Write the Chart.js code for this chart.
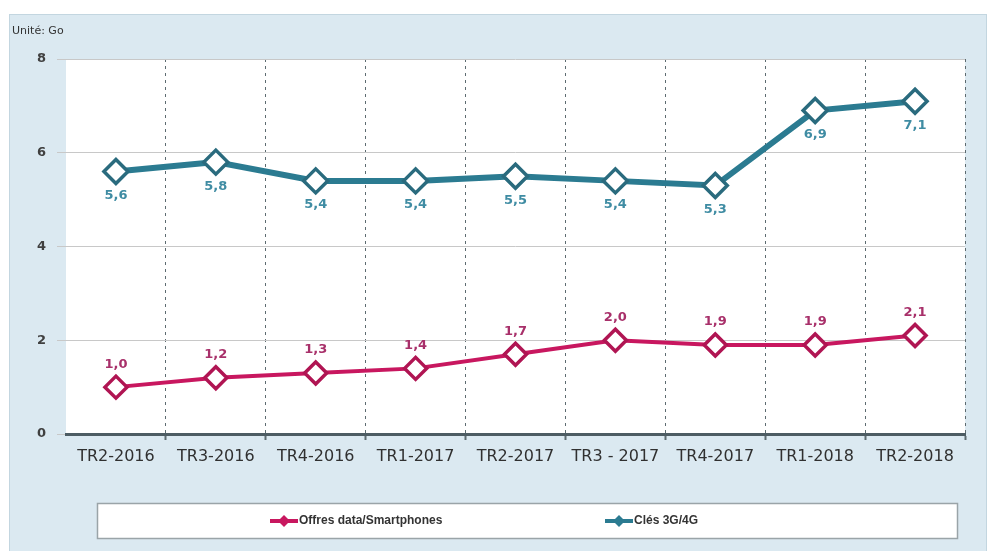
<!DOCTYPE html>
<html>
<head>
<meta charset="utf-8">
<script src="https://cdn.jsdelivr.net/npm/chart.js@4/dist/chart.umd.min.js"></script>
<style>
html,body{margin:0;padding:0;background:#fff;}
canvas{display:block;}
</style>
</head>
<body>
<canvas id="c" width="987" height="551"></canvas>
<script>
const categories = ['TR2-2016','TR3-2016','TR4-2016','TR1-2017','TR2-2017','TR3 - 2017','TR4-2017','TR1-2018','TR2-2018'];
const smartphones = [1.0,1.2,1.3,1.4,1.7,2.0,1.9,1.9,2.1];
const cles = [5.6,5.8,5.4,5.4,5.5,5.4,5.3,6.9,7.1];
const yTicks = [0,2,4,6,8];
const seriesNames = ['Offres data/Smartphones','Clés 3G/4G'];
const unitLabel = 'Unité: Go';

const PINK = '#c8175f', PINK_DARK = '#b01553', PINK_LABEL = '#a8306a';
const BLUE = '#2b7b91', BLUE_DARK = '#2a6b7e', BLUE_LABEL = '#3f8ca3';
const FRAME = '#dbe9f1';

const framePlugin = {
  id: 'frame',
  beforeDraw(chart) {
    const ctx = chart.ctx, a = chart.chartArea;
    ctx.save();
    ctx.fillStyle = '#fff';
    ctx.fillRect(0,0,chart.width,chart.height);
    ctx.fillStyle = FRAME;
    ctx.fillRect(9,14,chart.width-9,chart.height-14);
    ctx.strokeStyle = '#c3d6e0';
    ctx.lineWidth = 1;
    ctx.strokeRect(9.5,14.5,chart.width-10,chart.height-14);
    ctx.fillStyle = '#fff';
    ctx.fillRect(a.left,a.top,a.right-a.left,a.bottom-a.top);
    ctx.fillStyle = '#333';
    ctx.font = '11px "DejaVu Sans"';
    ctx.textBaseline = 'middle';
    ctx.textAlign = 'left';
    ctx.fillText(unitLabel, 12, 31);
    ctx.restore();
  }
};

const labelPlugin = {
  id: 'valueLabels',
  afterDatasetsDraw(chart) {
    const ctx = chart.ctx;
    ctx.save();
    ctx.font = 'bold 13px "DejaVu Sans"';
    ctx.textAlign = 'center';
    ctx.textBaseline = 'middle';
    chart.data.datasets.forEach((ds, i) => {
      const meta = chart.getDatasetMeta(i);
      meta.data.forEach((pt, j) => {
        const txt = ds.data[j].toFixed(1).replace('.', ',');
        ctx.fillStyle = ds.labelColor;
        ctx.fillText(txt, pt.x, pt.y + ds.labelOffset);
      });
    });
    ctx.restore();
  }
};

const legendPlugin = {
  id: 'boxLegend',
  afterDraw(chart) {
    const ctx = chart.ctx;
    ctx.save();
    ctx.fillStyle = '#fff';
    ctx.fillRect(97,503,861,36);
    ctx.strokeStyle = '#9aa4a8';
    ctx.lineWidth = 1.5;
    ctx.strokeRect(97.5,503.5,860,35);
    const items = [
      {x:270, ds:chart.data.datasets[0]},
      {x:605, ds:chart.data.datasets[1]}
    ];
    const y = 521;
    items.forEach(it => {
      ctx.strokeStyle = it.ds.borderColor;
      ctx.lineWidth = 4;
      ctx.beginPath(); ctx.moveTo(it.x, y); ctx.lineTo(it.x+28, y); ctx.stroke();
      ctx.fillStyle = it.ds.borderColor;
      ctx.beginPath();
      const cx = it.x+14;
      ctx.moveTo(cx, y-6); ctx.lineTo(cx+6, y); ctx.lineTo(cx, y+6); ctx.lineTo(cx-6, y); ctx.closePath();
      ctx.fill();
      ctx.fillStyle = '#333';
      ctx.font = 'bold 12px "Liberation Sans"';
      ctx.textAlign = 'left';
      ctx.textBaseline = 'middle';
      ctx.fillText(it.ds.label, it.x+29, y);
    });
    ctx.restore();
  }
};

new Chart(document.getElementById('c'), {
  type: 'line',
  data: {
    labels: categories,
    datasets: [
      {
        label: seriesNames[0], data: smartphones,
        borderColor: PINK, borderWidth: 4, tension: 0,
        pointStyle: 'rectRot', pointRadius: 11, pointBorderWidth: 3.5,
        pointBackgroundColor: '#fff', pointBorderColor: PINK_DARK,
        labelColor: PINK_LABEL, labelOffset: -23
      },
      {
        label: seriesNames[1], data: cles,
        borderColor: BLUE, borderWidth: 6, tension: 0,
        pointStyle: 'rectRot', pointRadius: 12, pointBorderWidth: 3.5,
        pointBackgroundColor: '#fff', pointBorderColor: BLUE_DARK,
        labelColor: BLUE_LABEL, labelOffset: 24
      }
    ]
  },
  options: {
    responsive: false,
    animation: false,
    events: [],
    layout: { padding: { left: 10, right: 22, top: 59, bottom: 0 } },
    plugins: { legend: { display: false }, tooltip: { enabled: false } },
    scales: {
      x: {
        offset: true,
        grid: {
          offset: true,
          color: c => c.index === 0 ? 'rgba(0,0,0,0)' : '#5d6b70',
          lineWidth: 1,
          drawTicks: true,
          tickLength: 6,
          tickWidth: 2
        },
        border: { display: true, color: '#4d5c63', width: 3, dash: [3,4] },
        ticks: {
          color: '#303030',
          font: { family: 'DejaVu Sans', size: 16 },
          padding: 7,
          maxRotation: 0,
          autoSkip: false
        },
        afterFit: s => { s.height = 117; }
      },
      y: {
        min: 0, max: 8,
        afterBuildTicks: s => { s.ticks = yTicks.map(v => ({ value: v })); },
        grid: { color: '#c8c8c8', lineWidth: 1, tickLength: 9 },
        border: { display: false },
        ticks: {
          color: '#404040',
          font: { family: 'DejaVu Sans', size: 13, weight: 'bold' },
          padding: 11
        },
        afterFit: s => { s.width = 56; }
      }
    }
  },
  plugins: [framePlugin, labelPlugin, legendPlugin]
});
</script>
</body>
</html>
